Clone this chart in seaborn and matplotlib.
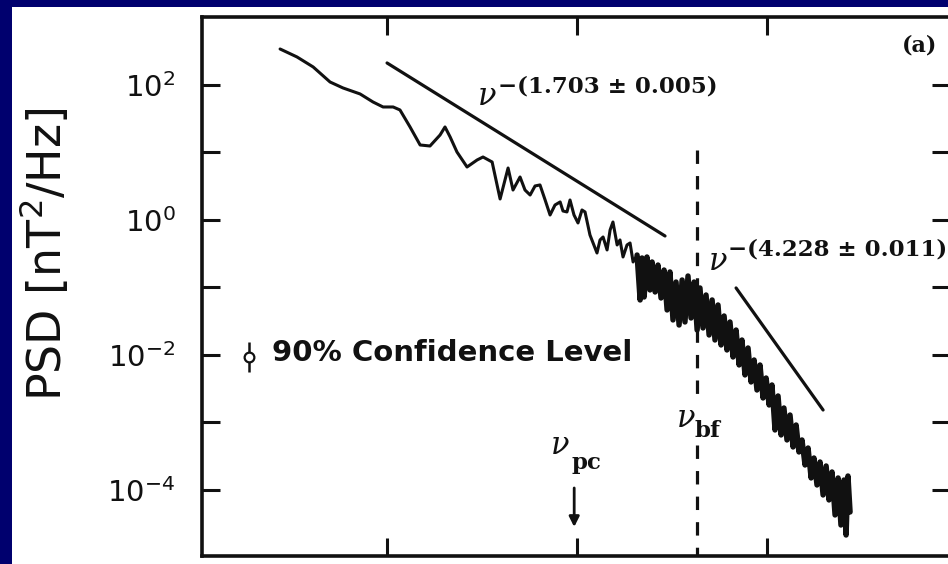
import numpy as np
import pandas as pd
import matplotlib
matplotlib.use("Agg")
import matplotlib.pyplot as plt
import seaborn as sns
from matplotlib.patches import Rectangle
from matplotlib.ticker import FixedLocator, NullLocator

# ---------------- data (log10 units) ----------------
# log10 frequency [Hz]
log_freq = [
    -2.563, -2.474, -2.389, -2.300, -2.232, -2.142, -2.074, -2.021, -1.968, -1.932,
    -1.879, -1.826, -1.774, -1.721, -1.695, -1.668, -1.632, -1.579, -1.526, -1.495,
    -1.447, -1.405, -1.363, -1.337, -1.300, -1.274, -1.247, -1.221, -1.195, -1.168,
    -1.142, -1.116, -1.089, -1.074, -1.053, -1.037, -1.016, -0.995, -0.974, -0.958,
    -0.932, -0.895, -0.879, -0.863, -0.842, -0.826, -0.811, -0.789, -0.774, -0.758,
    -0.737, -0.721, -0.705, -0.684,
    -0.668, -0.658, -0.647, -0.632, -0.616, -0.605, -0.589, -0.574, -0.558, -0.542,
    -0.526, -0.511, -0.495, -0.479, -0.463, -0.447, -0.432, -0.416, -0.400, -0.384,
    -0.368, -0.353, -0.337, -0.321, -0.305, -0.289, -0.274, -0.258, -0.242, -0.226,
    -0.211, -0.195, -0.179, -0.163, -0.147, -0.132, -0.116, -0.100, -0.084, -0.068,
    -0.053, -0.037, -0.021, -0.005, 0.011, 0.026, 0.042, 0.058, 0.074, 0.089,
    0.105, 0.121, 0.137, 0.153, 0.168, 0.184, 0.200, 0.216, 0.232, 0.247,
    0.263, 0.279, 0.295, 0.311, 0.326, 0.342, 0.358, 0.374, 0.389, 0.405,
    0.416, 0.426, 0.437,
]
# log10 PSD [nT^2/Hz]
log_psd = [
    2.533, 2.415, 2.267, 2.044, 1.956, 1.867, 1.748, 1.674, 1.674, 1.630,
    1.378, 1.111, 1.096, 1.259, 1.378, 1.230, 1.007, 0.785, 0.889, 0.933,
    0.859, 0.311, 0.770, 0.444, 0.637, 0.444, 0.370, 0.504, 0.519, 0.296,
    0.074, 0.222, 0.267, 0.133, 0.119, 0.296, 0.074, -0.044, 0.148, 0.119,
    -0.222, -0.489, -0.296, -0.252, -0.444, -0.148, -0.030, -0.370, -0.296, -0.548,
    -0.370, -0.341, -0.622, -0.519,
    -1.185, -0.563, -1.141, -0.548, -1.037, -0.622, -1.067, -0.667, -1.156, -0.741,
    -1.333, -0.770, -1.481, -0.919, -1.556, -0.889, -1.511, -0.830, -1.452, -0.919,
    -1.630, -1.007, -1.600, -1.111, -1.704, -1.185, -1.778, -1.259, -1.852, -1.422,
    -1.926, -1.511, -2.030, -1.630, -2.148, -1.778, -2.296, -1.896, -2.400, -2.074,
    -2.519, -2.148, -2.637, -2.341, -2.741, -2.444, -3.111, -2.607, -3.185, -2.785,
    -3.259, -2.889, -3.363, -3.037, -3.437, -3.259, -3.630, -3.378, -3.822, -3.526,
    -3.926, -3.585, -4.074, -3.644, -4.148, -3.733, -4.370, -3.822, -4.519, -3.852,
    -4.667, -3.793, -4.326,
]
N_SMOOTH = 54  # first points: low-frequency (smooth) part of the spectrum

# power-law fit segments
fit_low_logf = [-2.000, -0.537]
fit_low_logp = [2.326, -0.237]
fit_high_logf = [-0.163, 0.295]
fit_high_logp = [-1.007, -2.815]

# characteristic frequencies (log10 Hz)
nu_pc_logf = -1.015
nu_bf_logf = -0.368

# confidence-level symbol (log10 PSD: centre, low, high)
conf_logp = [-2.030, -2.252, -1.807]

slope_low_label = "\u2212(1.703 \u00b1 0.005)"
slope_high_label = "\u2212(4.228 \u00b1 0.011)"
conf_label = "90% Confidence Level"
panel_label = "(a)"
y_label = "PSD [nT$^2$/Hz]"
y_tick_exps = [2, 1, 0, -1, -2, -3, -4]
x_tick_exps = [-2, -1, 0]

# ---------------- style ----------------
sns.set_theme(style="ticks")
plt.rcParams["font.family"] = ["DejaVu Sans"]
plt.rcParams["mathtext.default"] = "regular"

NAVY = "#00006e"
INK = "#111111"

fig = plt.figure(figsize=(9.48, 5.64), dpi=100, facecolor=NAVY)
fig.patches.append(Rectangle((12 / 948, 0), 1, 1 - 7 / 564,
                             transform=fig.transFigure, facecolor="white",
                             edgecolor="none", zorder=-10))

ax = fig.add_axes([202 / 948, 8 / 564, 748 / 948, 539 / 564])
ax.set_zorder(5)
ax.set_facecolor("white")
ax.set_xscale("log")
ax.set_yscale("log")

df = pd.DataFrame({"freq": 10 ** np.array(log_freq),
                   "psd": 10 ** np.array(log_psd)})
sns.lineplot(data=df.iloc[:N_SMOOTH], x="freq", y="psd", sort=False,
             estimator=None, color=INK, lw=2.2, ax=ax)
sns.lineplot(data=df.iloc[N_SMOOTH - 1:], x="freq", y="psd", sort=False,
             estimator=None, color=INK, lw=3.9, ax=ax)

for lf, lp in [(fit_low_logf, fit_low_logp), (fit_high_logf, fit_high_logp)]:
    seg = pd.DataFrame({"freq": 10 ** np.array(lf), "psd": 10 ** np.array(lp)})
    sns.lineplot(data=seg, x="freq", y="psd", sort=False, estimator=None,
                 color=INK, lw=2.3, ax=ax)

# break frequency dashed line (interrupted by its label)
for y0, y1 in [(1.037, -2.667), (-3.333, -4.978)]:
    ax.plot([10 ** nu_bf_logf, 10 ** nu_bf_logf], [10 ** y0, 10 ** y1],
            color=INK, lw=2.3, dashes=(4.2, 3.8))

# proton cyclotron arrow
ax.annotate("", xy=(10 ** nu_pc_logf, 10 ** -4.548),
            xytext=(10 ** nu_pc_logf, 10 ** -3.970),
            arrowprops=dict(arrowstyle="-|>", lw=2, color=INK,
                            mutation_scale=15, shrinkA=0, shrinkB=0))

# confidence level symbol
yc, ylo, yhi = (10 ** v for v in conf_logp)
ax.errorbar([10 ** -2.726], [yc], yerr=[[yc - ylo], [yhi - yc]],
            fmt="o", ms=7, mfc="white", mec=INK, mew=1.6, ecolor=INK,
            elinewidth=1.8, capsize=0)
ax.text(10 ** -2.605, 10 ** -1.970, conf_label, ha="left", va="center",
        fontsize=21, fontweight="bold", color=INK)

serif = "DejaVu Serif"
nu_kw = dict(fontfamily=serif, fontstyle="italic", fontsize=22, color=INK,
             ha="center", va="center")
sub_kw = dict(fontfamily=serif, fontweight="bold", fontsize=16.5, color=INK,
              va="center")

ax.text(10 ** -1.474, 10 ** 1.822, "\u03bd", **nu_kw)
ax.text(10 ** -1.416, 10 ** 1.970, slope_low_label, ha="left", **sub_kw)
ax.text(10 ** -0.258, 10 ** -0.622, "\u03bd", **nu_kw)
ax.text(10 ** -0.205, 10 ** -0.444, slope_high_label, ha="left", **sub_kw)

ax.text(10 ** -1.089, 10 ** -3.348, "\u03bd", **nu_kw)
ax.text(10 ** -0.953, 10 ** -3.600, "pc", ha="center", **sub_kw)
ax.text(10 ** -0.426, 10 ** -2.948, "\u03bd", **nu_kw)
ax.text(10 ** -0.316, 10 ** -3.126, "bf", ha="center", **sub_kw)

ax.text(10 ** 0.805, 10 ** 2.578, panel_label, ha="center", va="center",
        fontfamily=serif, fontweight="bold", fontsize=16, color=INK)

# axes limits / ticks
ax.set_xlim(10 ** -2.974, 10 ** 0.963)
ax.set_ylim(10 ** -4.978, 10 ** 3.007)
ax.xaxis.set_major_locator(FixedLocator([10.0 ** e for e in x_tick_exps]))
ax.xaxis.set_minor_locator(NullLocator())
ax.set_xticklabels([""] * len(x_tick_exps))
ax.yaxis.set_major_locator(FixedLocator([10.0 ** e for e in y_tick_exps]))
ax.yaxis.set_minor_locator(NullLocator())
ax.set_yticklabels([f"$10^{{{e}}}$" if e % 2 == 0 else "" for e in y_tick_exps])
ax.tick_params(axis="both", which="major", direction="in", length=13,
               width=2.2, color=INK, top=True, right=True,
               labelsize=21, labelcolor=INK, pad=19)
ax.set_xlabel("")
ax.set_ylabel(y_label, fontsize=33, color=INK, va="center")
ax.yaxis.set_label_coords(-0.21, 0.56)

for side in ["left", "top", "bottom"]:
    ax.spines[side].set_linewidth(2.6)
    ax.spines[side].set_color(INK)
ax.spines["right"].set_visible(False)

fig.savefig("out.png", dpi=100, facecolor=NAVY)
